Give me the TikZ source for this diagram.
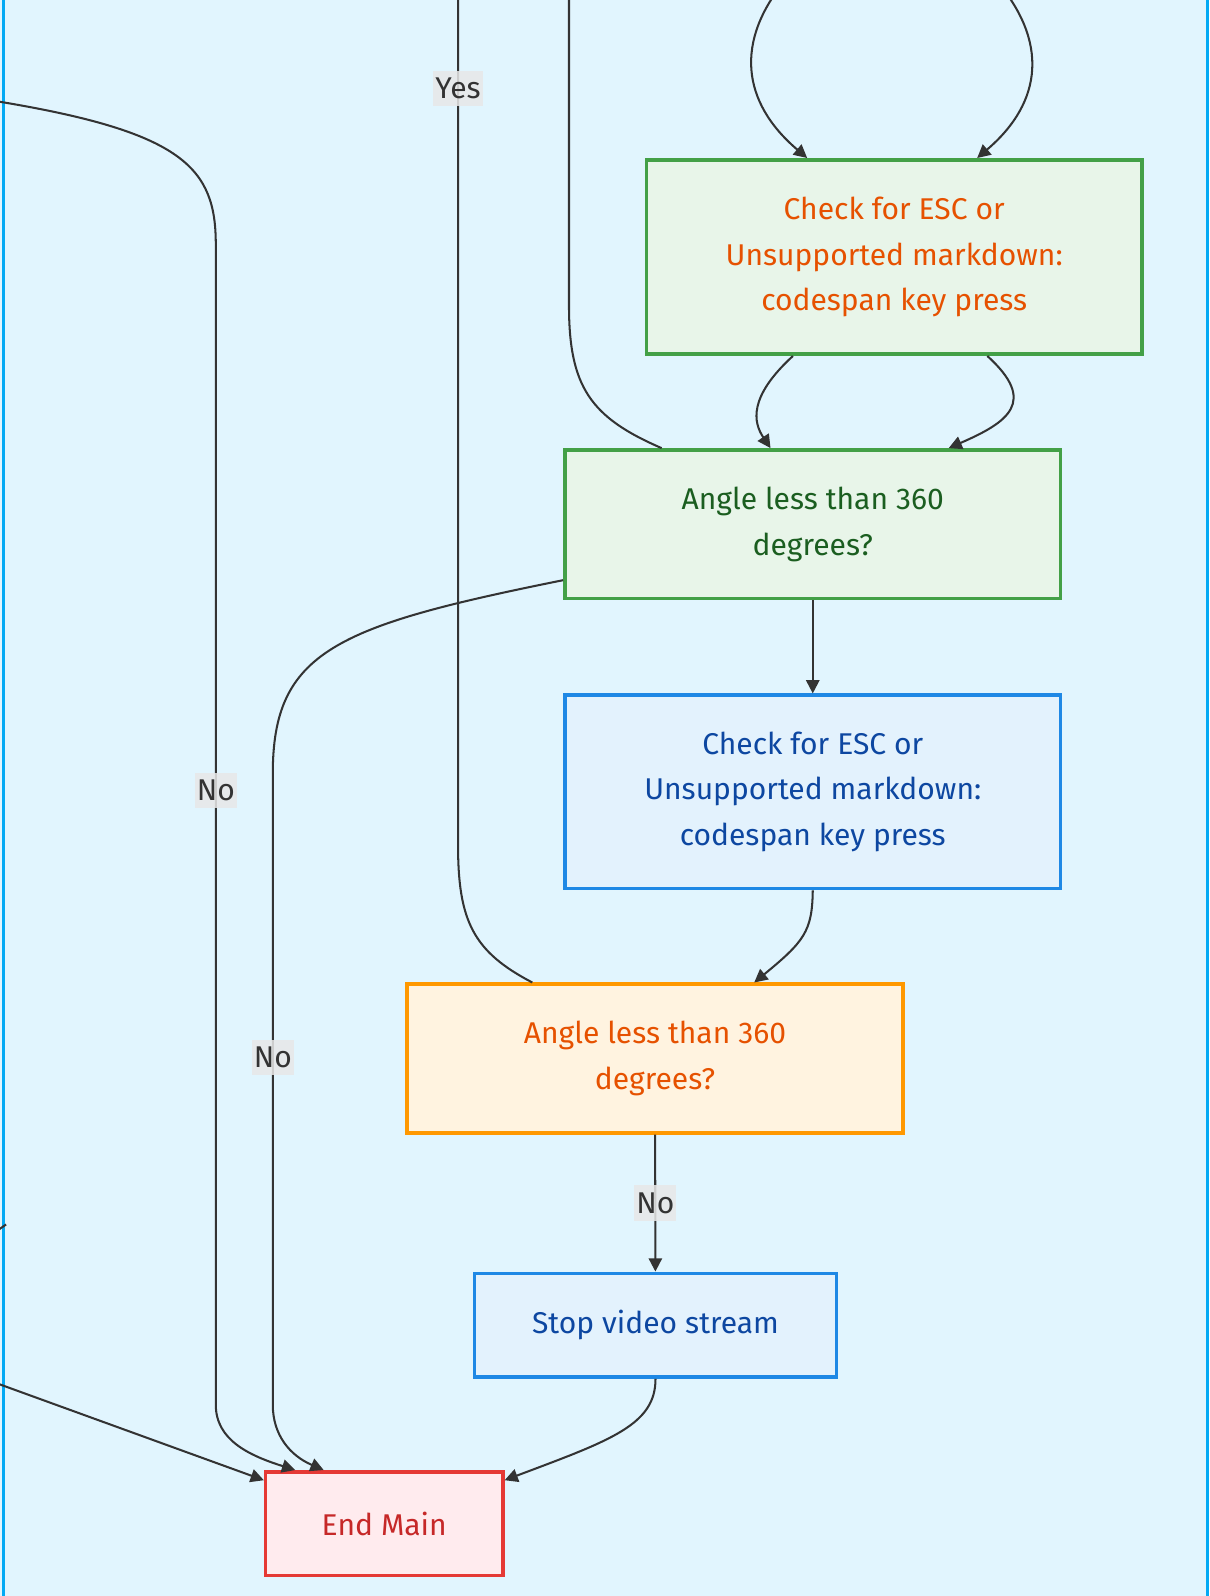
\documentclass[tikz,border=0pt]{standalone}
\usepackage{fontspec}
\setmainfont{Fira Sans}
\usetikzlibrary{arrows.meta}

\definecolor{clbg}{HTML}{E1F5FE}
\definecolor{clbd}{HTML}{03A9F4}
\definecolor{grfill}{HTML}{E8F5E9}
\definecolor{grline}{HTML}{43A047}
\definecolor{grtext}{HTML}{1B5E20}
\definecolor{orfill}{HTML}{FFF3E0}
\definecolor{orline}{HTML}{FF9800}
\definecolor{ortext}{HTML}{E65100}
\definecolor{blfill}{HTML}{E3F2FD}
\definecolor{blline}{HTML}{1E88E5}
\definecolor{bltext}{HTML}{0D47A1}
\definecolor{rdfill}{HTML}{FFEBEE}
\definecolor{rdline}{HTML}{E53935}
\definecolor{rdtext}{HTML}{C62828}
\definecolor{edgecol}{HTML}{333333}
\definecolor{lblbg}{HTML}{E8E8E8}

\tikzset{
  box/.style={rectangle, line width=3.5pt, align=center, inner sep=0pt,
    font=\fontsize{29.5}{45}\selectfont},
  greenbox/.style={box, draw=grline, fill=grfill},
  bluebox/.style={box, draw=blline, fill=blfill, text=bltext},
  orangebox/.style={box, draw=orline, fill=orfill, text=ortext},
  redbox/.style={box, draw=rdline, fill=rdfill, text=rdtext},
  flow/.style={draw=edgecol, line width=2pt, -{Triangle[length=13pt,width=13pt]}},
  link/.style={draw=edgecol, line width=2pt},
  lbl/.style={fill=lblbg, fill opacity=0.85, text opacity=1, text=edgecol,
    inner xsep=2pt, inner ysep=7pt, font=\fontsize{29.5}{30}\selectfont},
}

\begin{document}
\begin{tikzpicture}[x=1pt, y=-1pt]
\useasboundingbox (0,0) rectangle (1188,1568);
\clip (0,0) rectangle (1188,1568);
\fill[clbg] (0,0) rectangle (1188,1568);
\draw[clbd, line width=3pt] (3,0) -- (3,1568);
\draw[clbd, line width=3pt] (1186,0) -- (1186,1568);

% nodes
\node[greenbox, text=ortext, minimum width=487pt, minimum height=191pt] (chk0) at (878.5,252.5)
  {Check for ESC or\\Unsupported markdown:\\codespan key press};
\node[greenbox, text=grtext, minimum width=487pt, minimum height=146pt] (ang0) at (798.5,515)
  {Angle less than 360\\degrees?};
\node[bluebox, minimum width=487pt, minimum height=190pt] (chk1) at (798.5,778)
  {Check for ESC or\\Unsupported markdown:\\codespan key press};
\node[orangebox, minimum width=487pt, minimum height=146pt] (ang1) at (643.5,1040)
  {Angle less than 360\\degrees?};
\node[bluebox, minimum width=356pt, minimum height=102pt] (stop) at (644,1302) {Stop video stream};
\node[redbox, minimum width=233pt, minimum height=102pt] (endm) at (377.5,1497) {End Main};

% free ends outside the cluster
\coordinate (in0) at (772,-20);
\coordinate (in1) at (978,-20);
\coordinate (up0) at (559,-20);
\coordinate (up1) at (450,-20);
\coordinate (side0) at (-20,96);
\coordinate (side1) at (-28,1350);
\coordinate (side2) at (-10,1214);

% edges
\draw[flow] (in0) .. controls (722,40) and (728,100) .. ([xshift=-85.5pt]chk0.north);
\draw[flow] (in1) .. controls (1030,40) and (1025,100) .. ([xshift=81.5pt]chk0.north);
\draw[flow] ([xshift=-99.5pt]chk0.south) .. controls (735,390) and (740,415) .. ([xshift=-41.5pt]ang0.north);
\draw[flow] ([xshift=91.5pt]chk0.south) .. controls (1020,395) and (990,415) .. ([xshift=133.5pt]ang0.north);
\draw[link] ([xshift=-148.5pt]ang0.north) .. controls (580,410) and (559,380) .. (559,300) -- (up0);
\draw[link] ([xshift=-120.5pt]ang1.north) .. controls (465,935) and (450,905) .. (450,830) -- (up1)
  node[lbl, pos=0.874] (yes0) {Yes};
\draw[flow] (side0) -- (0,100) .. controls (180,130) and (212,165) .. (212,240) -- (212,1380)
  node[lbl, pos=0.471] (no0) {No}
  .. controls (212,1415) and (245,1430) .. ([xshift=-87.5pt]endm.north);
\draw[flow] ([yshift=-55pt]ang0.west) .. controls (330,615) and (268,640) .. (268,760) -- (268,1380)
  node[lbl, pos=0.45] (no1) {No}
  .. controls (268,1410) and (285,1430) .. ([xshift=-59.5pt]endm.north);
\draw[flow] (ang0) -- (chk1);
\draw[flow] (chk1.south) .. controls (798,915) and (790,925) .. ([xshift=97.5pt]ang1.north);
\draw[flow] (ang1) -- node[lbl] (no2) {No} (stop);
\draw[flow] (stop.south) .. controls (644,1400) and (600,1415) .. ([yshift=-10pt]endm.north east);
\draw[flow] (side1) -- ([yshift=-10pt]endm.north west);
\draw[link] (side2) -- (6,1203);
\end{tikzpicture}
\end{document}
